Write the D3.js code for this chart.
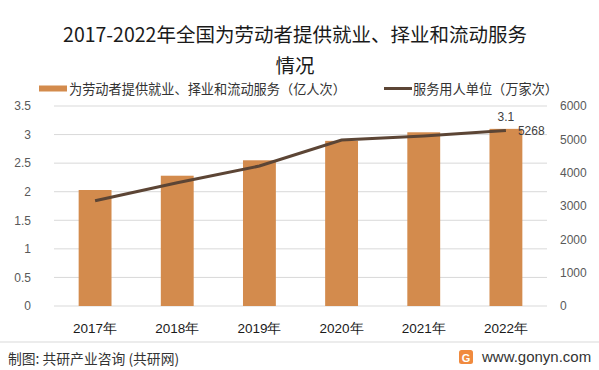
<!DOCTYPE html>
<html>
<head>
<meta charset="utf-8">
<script src="https://cdn.jsdelivr.net/npm/d3@7"></script>
<style>
  body { margin: 0; background: #fff; }
  svg { font-family: "Noto Sans CJK SC", "Microsoft YaHei", sans-serif; }
</style>
</head>
<body>
<div id="chart"></div>
<script>
var years = ["2017年", "2018年", "2019年", "2020年", "2021年", "2022年"];
var services = [2.03, 2.28, 2.55, 2.89, 3.04, 3.1];      // 亿人次
var units = [3160, 3700, 4200, 4980, 5100, 5268];         // 万家次
var leftTicks = [0, 0.5, 1, 1.5, 2, 2.5, 3, 3.5];
var rightTicks = [0, 1000, 2000, 3000, 4000, 5000, 6000];

var W = 599, H = 370,
    margin = {left: 54, right: 52, top: 106, bottom: 64},
    barColor = "#D38B4D",
    lineColor = "#5C4535",
    axisGray = "#595959";

var svg = d3.select("#chart").append("svg")
    .attr("width", W).attr("height", H);

var x = d3.scaleBand().domain(years).range([margin.left, W - margin.right]).paddingInner(0.6).paddingOuter(0.3);
var yL = d3.scaleLinear().domain([0, 3.5]).range([H - margin.bottom, margin.top]);
var yR = d3.scaleLinear().domain([0, 6000]).range([H - margin.bottom, margin.top]);

// title
svg.append("text").attr("x", 295).attr("y", 42).attr("text-anchor", "middle")
    .attr("font-size", 19.5).attr("fill", "#1a1a1a")
    .text("2017-2022年全国为劳动者提供就业、择业和流动服务");
svg.append("text").attr("x", 295).attr("y", 72.5).attr("text-anchor", "middle")
    .attr("font-size", 19.5).attr("fill", "#1a1a1a").text("情况");

// legend
var lg = svg.append("g").attr("font-size", 13.2).attr("fill", "#333");
lg.append("rect").attr("x", 39).attr("y", 85.5).attr("width", 28).attr("height", 6).attr("fill", barColor);
lg.append("text").attr("x", 69).attr("y", 94).text("为劳动者提供就业、择业和流动服务（亿人次）");
lg.append("line").attr("x1", 384).attr("x2", 412).attr("y1", 88.5).attr("y2", 88.5)
    .attr("stroke", lineColor).attr("stroke-width", 3);
lg.append("text").attr("x", 413).attr("y", 94).text("服务用人单位（万家次）");

// gridlines
svg.append("g").selectAll("line").data(leftTicks).join("line")
    .attr("x1", margin.left).attr("x2", W - margin.right)
    .attr("y1", d => yL(d)).attr("y2", d => yL(d))
    .attr("stroke", "#d9d9d9").attr("stroke-width", 1);

// left axis
var axL = svg.append("g").attr("transform", "translate(" + (margin.left - 20) + ",0)")
    .call(d3.axisLeft(yL).tickValues(leftTicks).tickSize(0).tickFormat(d3.format("")));
axL.select(".domain").remove();
axL.selectAll("text").attr("fill", axisGray).attr("font-size", 12).attr("font-family", "Liberation Sans, Arial, sans-serif");

// right axis
var axR = svg.append("g").attr("transform", "translate(" + (W - margin.right + 10) + ",0)")
    .call(d3.axisRight(yR).tickValues(rightTicks).tickSize(0).tickFormat(d3.format("d")));
axR.select(".domain").remove();
axR.selectAll("text").attr("fill", axisGray).attr("font-size", 12).attr("font-family", "Liberation Sans, Arial, sans-serif");

// bars
svg.append("g").selectAll("rect").data(services).join("rect")
    .attr("x", (d, i) => x(years[i]))
    .attr("width", x.bandwidth())
    .attr("y", d => yL(d))
    .attr("height", d => yL(0) - yL(d))
    .attr("fill", barColor);

// x labels
var axX = svg.append("g").attr("transform", "translate(0," + (H - margin.bottom + 14) + ")")
    .call(d3.axisBottom(x).tickSize(0));
axX.select(".domain").remove();
axX.selectAll("text").attr("fill", "#1a1a1a").attr("font-size", 13.5);

// line
var line = d3.line().x((d, i) => x(years[i]) + x.bandwidth()/2).y(d => yR(d));
svg.append("path").datum(units).attr("d", line)
    .attr("fill", "none").attr("stroke", lineColor).attr("stroke-width", 3);

// labels on last point
var last = years.length - 1;
svg.append("text").attr("x", x(years[last]) + x.bandwidth()/2).attr("y", yL(services[last]) - 8)
    .attr("text-anchor", "middle").attr("font-size", 12).attr("fill", "#404040")
    .attr("font-family", "Liberation Sans, Arial, sans-serif").text(services[last]);
svg.append("text").attr("x", x(years[last]) + x.bandwidth()/2 + 12).attr("y", yR(units[last]) + 5)
    .attr("font-size", 12).attr("fill", "#404040")
    .attr("font-family", "Liberation Sans, Arial, sans-serif").text(units[last]);

// footer
svg.append("line").attr("x1", 0).attr("x2", W).attr("y1", 342).attr("y2", 342)
    .attr("stroke", "#d9d9d9");
svg.append("text").attr("x", 8).attr("y", 364).attr("font-size", 13.8).attr("fill", "#333")
    .text("制图: 共研产业咨询 (共研网)");
var logo = svg.append("g").attr("transform", "translate(459,350)");
logo.append("rect").attr("width", 14).attr("height", 14).attr("rx", 2.5).attr("fill", "#F08A3E");
logo.append("text").attr("x", 7).attr("y", 11.5).attr("text-anchor", "middle")
    .attr("font-size", 11).attr("font-weight", "bold").attr("fill", "#fff")
    .attr("font-family", "Liberation Sans, Arial, sans-serif").text("G");
svg.append("text").attr("x", 482).attr("y", 362).attr("font-size", 15).attr("fill", "#333")
    .attr("font-family", "Liberation Sans, Arial, sans-serif").text("www.gonyn.com");
</script>
</body>
</html>
